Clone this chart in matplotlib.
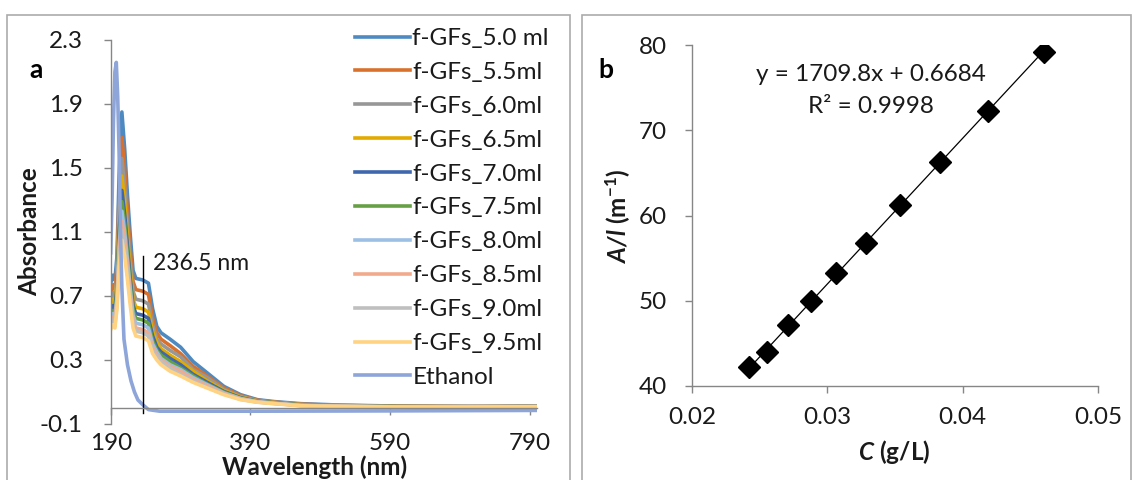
import matplotlib
matplotlib.use("Agg")
import matplotlib.pyplot as plt
from matplotlib.patches import Rectangle

plt.rcParams["font.family"] = ["Lato", "DejaVu Sans"]
plt.rcParams["mathtext.fontset"] = "custom"
plt.rcParams["mathtext.rm"] = "Lato"
plt.rcParams["mathtext.bf"] = "Lato:bold"
plt.rcParams["mathtext.it"] = "Lato:italic"
plt.rcParams["mathtext.bfit"] = "Lato:bold:italic"

# ---- panel a: UV-vis spectra ----
wl = [190, 193, 196, 199, 202, 206, 210, 214, 218, 222, 226, 236, 244, 250, 256,
      262, 275, 290, 308, 328, 352, 376, 400, 424, 462, 520, 600, 700, 800]

gfs_50 = [0.78, 0.83, 0.80, 0.95, 1.45, 1.85, 1.62, 1.33, 1.08, 0.86, 0.81, 0.80, 0.78, 0.62, 0.51,
          0.47, 0.43, 0.38, 0.29, 0.22, 0.135, 0.083, 0.052, 0.040, 0.027, 0.018, 0.012, 0.010, 0.010]
gfs_55 = [0.72, 0.77, 0.74, 0.88, 1.34, 1.69, 1.49, 1.22, 0.99, 0.79, 0.74, 0.73, 0.71, 0.56, 0.47,
          0.43, 0.39, 0.34, 0.26, 0.20, 0.125, 0.077, 0.049, 0.037, 0.024, 0.016, 0.011, 0.009, 0.010]
gfs_60 = [0.68, 0.72, 0.69, 0.83, 1.25, 1.56, 1.38, 1.14, 0.92, 0.73, 0.68, 0.67, 0.65, 0.52, 0.43,
          0.40, 0.36, 0.32, 0.24, 0.19, 0.116, 0.072, 0.046, 0.035, 0.022, 0.015, 0.010, 0.009, 0.009]
gfs_65 = [0.64, 0.68, 0.65, 0.79, 1.17, 1.45, 1.29, 1.07, 0.86, 0.68, 0.63, 0.62, 0.60, 0.48, 0.41,
          0.37, 0.33, 0.29, 0.23, 0.17, 0.110, 0.068, 0.044, 0.034, 0.021, 0.014, 0.009, 0.008, 0.009]
gfs_70 = [0.60, 0.64, 0.62, 0.75, 1.10, 1.36, 1.21, 1.01, 0.81, 0.64, 0.59, 0.58, 0.56, 0.45, 0.38,
          0.35, 0.31, 0.27, 0.21, 0.16, 0.103, 0.064, 0.042, 0.032, 0.019, 0.013, 0.008, 0.007, 0.009]
gfs_75 = [0.58, 0.61, 0.59, 0.72, 1.05, 1.29, 1.15, 0.96, 0.77, 0.61, 0.56, 0.55, 0.53, 0.42, 0.36,
          0.33, 0.29, 0.25, 0.20, 0.15, 0.099, 0.061, 0.041, 0.031, 0.018, 0.012, 0.008, 0.007, 0.008]
gfs_80 = [0.55, 0.59, 0.57, 0.69, 1.01, 1.23, 1.10, 0.92, 0.74, 0.58, 0.53, 0.52, 0.50, 0.40, 0.35,
          0.31, 0.27, 0.24, 0.19, 0.146, 0.094, 0.059, 0.040, 0.030, 0.017, 0.012, 0.007, 0.007, 0.008]
gfs_85 = [0.53, 0.57, 0.55, 0.67, 0.97, 1.17, 1.05, 0.88, 0.71, 0.55, 0.50, 0.49, 0.47, 0.38, 0.33,
          0.30, 0.26, 0.23, 0.18, 0.14, 0.091, 0.057, 0.038, 0.029, 0.016, 0.011, 0.007, 0.006, 0.008]
gfs_90 = [0.51, 0.55, 0.52, 0.65, 0.93, 1.11, 1.00, 0.84, 0.68, 0.53, 0.48, 0.47, 0.45, 0.36, 0.32,
          0.29, 0.25, 0.21, 0.17, 0.13, 0.087, 0.054, 0.037, 0.028, 0.015, 0.010, 0.006, 0.006, 0.008]
gfs_95 = [0.49, 0.52, 0.50, 0.62, 0.88, 1.05, 0.95, 0.80, 0.64, 0.50, 0.45, 0.44, 0.42, 0.34, 0.30,
          0.27, 0.23, 0.20, 0.16, 0.125, 0.083, 0.052, 0.036, 0.027, 0.014, 0.010, 0.006, 0.006, 0.008]

eth_wl = [190, 192, 194, 196, 198, 200, 202, 204, 206, 209, 214, 219, 224, 229, 236, 244, 260, 400, 600, 800]
eth_abs = [0.97, 1.30, 1.80, 2.10, 2.16, 1.95, 1.60, 1.10, 0.75, 0.43, 0.27, 0.17, 0.10, 0.05, 0.02,
           -0.01, -0.02, -0.02, -0.018, -0.015]

series_labels = ["f-GFs_5.0 ml", "f-GFs_5.5ml", "f-GFs_6.0ml", "f-GFs_6.5ml", "f-GFs_7.0ml",
                 "f-GFs_7.5ml", "f-GFs_8.0ml", "f-GFs_8.5ml", "f-GFs_9.0ml", "f-GFs_9.5ml"]
series_data = [gfs_50, gfs_55, gfs_60, gfs_65, gfs_70, gfs_75, gfs_80, gfs_85, gfs_90, gfs_95]
series_colors = ["#4E8AC2", "#D9712D", "#979797", "#E3AA00", "#3E67AE", "#66A044",
                 "#9CBFE4", "#F2AA8C", "#BFBFBF", "#FFD381"]
eth_color = "#8EA5D9"

# ---- panel b: calibration ----
conc = [0.0242, 0.02555, 0.02706, 0.02876, 0.03063, 0.03285, 0.03538, 0.03832, 0.04189, 0.04601]
a_over_l = [42.27, 43.95, 47.16, 49.97, 53.29, 56.81, 61.23, 66.31, 72.26, 79.22]
slope, intercept = 1709.8, 0.6684

W, H = 1132, 480
fig = plt.figure(figsize=(W / 100, H / 100), dpi=100)

# panel frames
frame_kw = dict(transform=fig.transFigure, fill=False, edgecolor="#ABABAB", linewidth=1.2)
fig.patches.append(Rectangle((7 / W, -0.05), (570 - 7) / W, 1.05 - 15.5 / H, **frame_kw))
fig.patches.append(Rectangle((582 / W, -0.05), (1131 - 582) / W, 1.05 - 15.5 / H, **frame_kw))

axis_gray = "#868686"
txt_col = "#1A1A1A"
fs = 17.5

def excel_axes(ax):
    for s in ["top", "right"]:
        ax.spines[s].set_visible(False)
    for s in ["left", "bottom"]:
        ax.spines[s].set_color(axis_gray)
        ax.spines[s].set_linewidth(1.0)
    ax.tick_params(direction="out", length=5, width=1.0, color=axis_gray,
                   labelsize=fs, labelcolor=txt_col)
    ax.tick_params(axis="x", pad=10)
    ax.tick_params(axis="y", pad=13)

# ---- left panel ----
ax1 = fig.add_axes([110.7 / W, 1 - 424 / H, (537 - 110.7) / W, 384 / H])
excel_axes(ax1)
for lab, ys, col in zip(series_labels, series_data, series_colors):
    ax1.plot(wl, ys, color=col, lw=2.6, label=lab, solid_joinstyle="round")
ax1.plot(eth_wl, eth_abs, color=eth_color, lw=2.6, label="Ethanol", solid_joinstyle="round")
ax1.set_xlim(190, 800)
ax1.set_ylim(-0.1, 2.3)
ax1.set_xticks([190, 390, 590, 790])
ax1.set_yticks([-0.1, 0.3, 0.7, 1.1, 1.5, 1.9, 2.3])
ax1.set_yticklabels(["-0.1", "0.3", "0.7", "1.1", "1.5", "1.9", "2.3"])
ax1.spines["bottom"].set_position(("data", 0))
ax1.tick_params(axis="x", pad=13)
ax1.tick_params(axis="y", pad=15)
ax1.plot([236.5, 236.5], [-0.03, 0.95], color="black", lw=1.0)
ax1.text(250, 0.90, "236.5 nm", fontsize=16.5, color=txt_col, va="center", ha="left")
ax1.text(83, 2.11, "a", fontsize=19, fontweight="bold", ha="center", va="center", clip_on=False)
ax1.set_ylabel("Absorbance", fontsize=fs, fontweight="bold", color=txt_col)
ax1.yaxis.set_label_coords(-0.163, 0.5)
ax1.text(0.479, -0.112, "Wavelength (nm)", transform=ax1.transAxes, fontsize=fs,
         fontweight="bold", ha="center", va="center", color=txt_col, clip_on=False)
leg = ax1.legend(loc="upper left", bbox_to_anchor=(355 / W, 1 - 28 / H),
                 bbox_transform=fig.transFigure, frameon=False, fontsize=fs,
                 handlelength=2.26, handletextpad=0.1, labelspacing=0.53, borderpad=0,
                 borderaxespad=0)
for t in leg.get_texts():
    t.set_color(txt_col)

# ---- right panel ----
ax2 = fig.add_axes([692 / W, 1 - 386 / H, (1098 - 692) / W, 341 / H])
excel_axes(ax2)
ax2.plot([conc[0], conc[-1]], [slope * conc[0] + intercept, slope * conc[-1] + intercept],
         color="black", lw=0.9)
ax2.plot(conc, a_over_l, linestyle="none", marker="D", markersize=11.5, color="black")
ax2.set_xlim(0.02, 0.05)
ax2.set_ylim(40, 80)
ax2.set_xticks([0.02, 0.03, 0.04, 0.05])
ax2.set_xticklabels(["0.02", "0.03", "0.04", "0.05"])
ax2.set_yticks([40, 50, 60, 70, 80])
ax2.text(0.03324, 76.5, "y = 1709.8x + 0.6684", fontsize=17.5, ha="center", va="center", color=txt_col)
ax2.text(0.03324, 72.8, "R² = 0.9998", fontsize=17.5, ha="center", va="center", color=txt_col)
ax2.text(0.0136, 77.1, "b", fontsize=19, fontweight="bold", ha="center", va="center", clip_on=False)
ax2.set_ylabel(r"$\mathbfit{A/l}$ $\mathbf{(m^{-1})}$", fontsize=fs, color=txt_col)
ax2.yaxis.set_label_coords(-0.145, 0.5)
ax2.text(0.498, -0.193, r"$\mathbfit{C}$ $\mathbf{(g/L)}$", transform=ax2.transAxes, fontsize=fs,
         ha="center", va="center", color=txt_col, clip_on=False)

fig.savefig("out.png", dpi=100)
